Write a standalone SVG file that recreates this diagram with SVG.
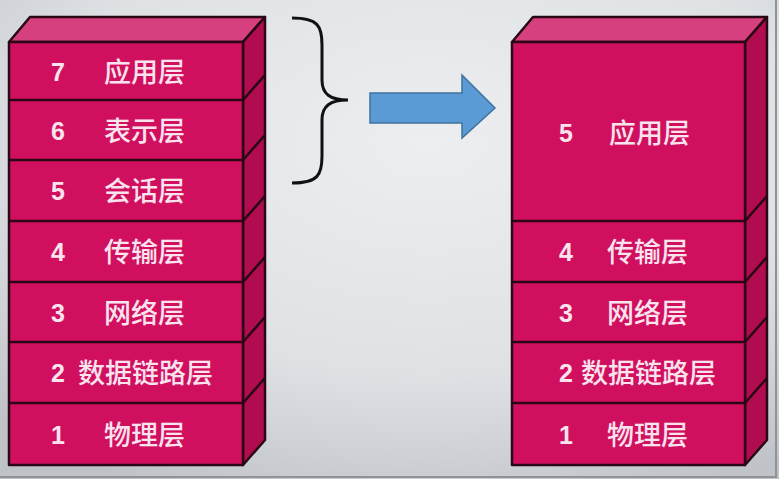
<svg xmlns="http://www.w3.org/2000/svg" width="779" height="479" viewBox="0 0 779 479">
<defs>
<radialGradient id="bg" cx="0.55" cy="0.3" r="0.8">
<stop offset="0" stop-color="#eceef0"/>
<stop offset="0.6" stop-color="#dfe2e5"/>
<stop offset="1" stop-color="#bfc3c7"/>
</radialGradient>
<style>
.front{fill:#d0105f;stroke:#2a0714;stroke-width:2.5;stroke-linejoin:round}
.top{fill:#d6407f;stroke:#2a0714;stroke-width:2.5;stroke-linejoin:round}
.side{fill:#b00c4f;stroke:#2a0714;stroke-width:2.5;stroke-linejoin:round}
.div{stroke:#2a0714;stroke-width:2.5;fill:none}
.t{font-family:"Liberation Sans","Noto Sans CJK SC",sans-serif;font-size:25px;font-weight:bold;fill:#fbe3ee}
.c{font-family:"Noto Sans CJK SC",sans-serif;font-size:27px;font-weight:500;fill:#fbe3ee}
.n{text-anchor:middle}
</style>
</defs>
<rect x="0" y="0" width="779" height="479" fill="url(#bg)"/>
<path d="M776,0 V477 H0" fill="none" stroke="#8f9296" stroke-width="2"/>

<g id="left-stack">
<polygon class="top" points="9,42 30,17 265,17 243,42"/>
<polygon class="side" points="243,42 265,17 265,440 243,465"/>
<rect class="front" x="9" y="42" width="234" height="423"/>
<path class="div" d="M9,100H243L265,75 M9,160H243L265,135 M9,221H243L265,196 M9,282H243L265,257 M9,342H243L265,317 M9,403H243L265,378"/>
</g>
<g id="L7"><text class="t n" x="58" y="81">7</text><text class="c" x="104" y="82">应用层</text></g>
<g id="L6"><text class="t n" x="58" y="140">6</text><text class="c" x="104" y="141">表示层</text></g>
<g id="L5"><text class="t n" x="58" y="200">5</text><text class="c" x="104" y="201">会话层</text></g>
<g id="L4"><text class="t n" x="58" y="261">4</text><text class="c" x="104" y="262">传输层</text></g>
<g id="L3"><text class="t n" x="58" y="322">3</text><text class="c" x="104" y="323">网络层</text></g>
<g id="L2"><text class="t n" x="58" y="382">2</text><text class="c" x="78" y="383">数据链路层</text></g>
<g id="L1"><text class="t n" x="58" y="444">1</text><text class="c" x="104" y="445">物理层</text></g>

<g id="connectors">
<path id="brace" d="M292,18 C318,18 322,26 322,45 L322,80 C322,94 330,100 348,100 C330,100 322,106 322,120 L322,156 C322,175 318,183 292,183" fill="none" stroke="#111" stroke-width="3"/>
<polygon id="arrow" points="370,93 462,93 462,75 495,108 462,138 462,123 370,123" fill="#5b9bd5" stroke="#41719c" stroke-width="1.5"/>
</g>

<g id="right-stack">
<polygon class="top" points="512,42 533,17 767,17 745,42"/>
<polygon class="side" points="745,42 767,17 767,440 745,465"/>
<rect class="front" x="512" y="42" width="233" height="423"/>
<path class="div" d="M512,221H745L767,196 M512,282H745L767,257 M512,342H745L767,317 M512,403H745L767,378"/>
</g>
<g id="R5"><text class="t n" x="566" y="142">5</text><text class="c" x="609" y="143">应用层</text></g>
<g id="R4"><text class="t n" x="566" y="261">4</text><text class="c" x="607" y="262">传输层</text></g>
<g id="R3"><text class="t n" x="566" y="322">3</text><text class="c" x="607" y="323">网络层</text></g>
<g id="R2"><text class="t n" x="566" y="382">2</text><text class="c" x="581" y="383">数据链路层</text></g>
<g id="R1"><text class="t n" x="566" y="444">1</text><text class="c" x="607" y="445">物理层</text></g>
</svg>
